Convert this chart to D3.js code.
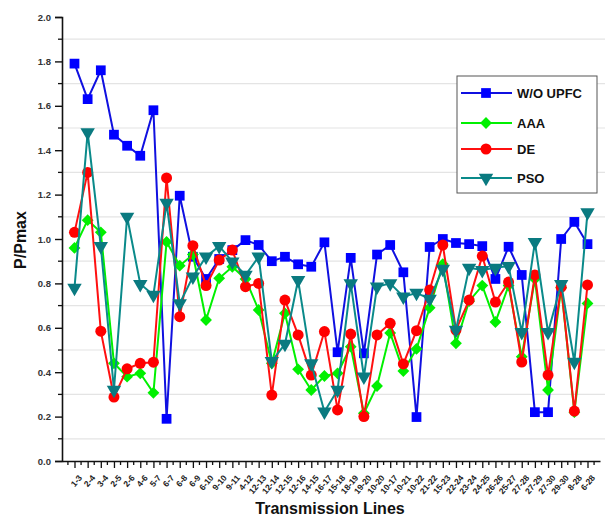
<!DOCTYPE html>
<html>
<head>
<meta charset="utf-8">
<script src="https://cdn.jsdelivr.net/npm/d3@7"></script>
<style>
  html, body { margin: 0; padding: 0; background: #fff; }
  svg { display: block; font-family: Arial, "Liberation Sans", sans-serif; }
</style>
</head>
<body>
<svg id="chart" width="605" height="520"></svg>
<script>
// Transmission lines of the test system
const lines = ["1-3","2-4","3-4","2-5","2-6","4-6","5-7","6-7","6-8","6-9",
  "6-10","9-10","9-11","4-12","12-13","12-14","12-15","12-16","14-15","16-17",
  "15-18","18-19","19-20","10-20","10-17","10-21","10-22","21-22","15-23","22-24",
  "23-24","24-25","26-26","25-27","27-28","27-29","27-30","29-30","8-28","6-28"];

// Line loading P/Pmax for each case
const woUpfc = [1.79,1.63,1.76,1.47,1.42,1.375,1.58,0.19,1.195,0.92,
  0.82,0.91,0.95,0.995,0.973,0.90,0.92,0.886,0.875,0.985,
  0.49,0.915,0.485,0.93,0.973,0.85,0.198,0.964,1.0,0.982,
  0.977,0.968,0.82,0.965,0.838,0.22,0.22,1.0,1.077,0.977];
const aaa = [0.96,1.085,1.03,0.44,0.38,0.395,0.307,0.987,0.88,0.93,
  0.635,0.823,0.875,0.82,0.68,0.44,0.665,0.413,0.32,0.383,
  0.395,0.515,0.215,0.338,0.577,0.405,0.505,0.69,0.887,0.53,
  0.72,0.79,0.626,0.79,0.47,0.82,0.32,0.78,0.22,0.71];
const de = [1.03,1.30,0.585,0.288,0.415,0.44,0.445,1.275,0.65,0.97,
  0.79,0.905,0.95,0.785,0.80,0.297,0.725,0.568,0.387,0.583,
  0.23,0.572,0.20,0.568,0.62,0.437,0.587,0.77,0.973,0.59,
  0.725,0.923,0.716,0.806,0.446,0.838,0.387,0.783,0.225,0.793];
const pso = [0.78,1.48,0.968,0.32,1.10,0.797,0.748,1.162,0.71,0.83,
  0.92,0.968,0.898,0.838,0.92,0.45,0.527,0.815,0.44,0.222,
  0.32,0.80,0.38,0.785,0.80,0.74,0.757,0.73,0.865,0.59,
  0.87,0.86,0.87,0.878,0.58,0.986,0.58,0.797,0.446,1.12];

const yTicks = [0.0,0.2,0.4,0.6,0.8,1.0,1.2,1.4,1.6,1.8,2.0];

// rot: marker rotation in degrees (a square turned 45° gives the diamond)
const series = [
  { name: "W/O UPFC", values: woUpfc, line: "#1010e0", fill: "#0000ff", symbol: d3.symbolSquare, size: 95, rot: 0 },
  { name: "AAA",      values: aaa,    line: "#00f000", fill: "#00f000", symbol: d3.symbolSquare, size: 70, rot: 45 },
  { name: "DE",       values: de,     line: "#ff1010", fill: "#ff0000", symbol: d3.symbolCircle, size: 95, rot: 0 },
  { name: "PSO",      values: pso,    line: "#0a8a8a", fill: "#0a7a80", symbol: d3.symbolTriangle, size: 90, rot: 180 }
];

const svg = d3.select("#chart");
const plotL = 62, plotR = 600, plotT = 17, plotB = 461;

const x = d3.scalePoint().domain(lines).range([plotL, plotR]).padding(0.95);
const y = d3.scaleLinear().domain([0, 2]).range([plotB, plotT]);

// Light horizontal grid at the minor ticks
const minorY = d3.range(1, 20, 2).map(v => v / 10);
svg.append("g").selectAll("line").data(minorY).join("line")
  .attr("x1", plotL).attr("x2", 605)
  .attr("y1", d => y(d)).attr("y2", d => y(d))
  .attr("stroke", "#e4e4e4").attr("stroke-width", 1.2);

// Y axis
const yAxis = svg.append("g").attr("transform", `translate(${plotL},0)`)
  .call(d3.axisLeft(y).tickValues(yTicks).tickFormat(d3.format(".1f")).tickSize(7).tickPadding(4));
yAxis.select(".domain").attr("stroke", "#111").attr("stroke-width", 1.6);
yAxis.selectAll(".tick line").attr("stroke", "#111").attr("stroke-width", 1.4);
yAxis.selectAll(".tick text").attr("font-size", 9.5).attr("font-weight", "bold").attr("fill", "#333");
yAxis.append("g").selectAll("line").data(minorY).join("line")
  .attr("x1", -4).attr("x2", 0).attr("y1", d => y(d)).attr("y2", d => y(d))
  .attr("stroke", "#111").attr("stroke-width", 1.3);

// X axis
const xAxis = svg.append("g").attr("transform", `translate(0,${plotB})`)
  .call(d3.axisBottom(x).tickSize(7).tickSizeOuter(0).tickPadding(3));
xAxis.select(".domain").attr("stroke", "#111").attr("stroke-width", 1.6);
xAxis.selectAll(".tick line").attr("stroke", "#111").attr("stroke-width", 1.3);
xAxis.selectAll(".tick text")
  .attr("font-size", 8.5).attr("font-weight", "bold").attr("fill", "#222")
  .attr("text-anchor", "end")
  .attr("dy", "0.3em")
  .attr("transform", "translate(-2,9) rotate(-50)");
const step = x.step();
const minorX = d3.range(lines.length + 1).map(i => x(lines[0]) - step / 2 + i * step)
  .filter(v => v > plotL && v < plotR + 2);
xAxis.append("g").selectAll("line").data(minorX).join("line")
  .attr("x1", d => d).attr("x2", d => d).attr("y1", 0).attr("y2", 4)
  .attr("stroke", "#111").attr("stroke-width", 1.3);

// Axis titles
svg.append("text").attr("x", 330).attr("y", 514).attr("text-anchor", "middle")
  .attr("font-size", 16).attr("font-weight", "bold").attr("fill", "#111")
  .text("Transmission Lines");
svg.append("text").attr("transform", "translate(26,240) rotate(-90)").attr("text-anchor", "middle")
  .attr("font-size", 16).attr("font-weight", "bold").attr("fill", "#111")
  .text("P/Pmax");

// Series lines and markers
const lineGen = d3.line().x((d, i) => x(lines[i])).y(d => y(d));
series.forEach(s => {
  const g = svg.append("g");
  g.append("path").datum(s.values).attr("d", lineGen)
    .attr("fill", "none").attr("stroke", s.line).attr("stroke-width", 2);
  g.selectAll("path.m").data(s.values).join("path").attr("class", "m")
    .attr("d", d3.symbol().type(s.symbol).size(s.size))
    .attr("transform", (d, i) => `translate(${x(lines[i])},${y(d)}) rotate(${s.rot})`)
    .attr("fill", s.fill);
});

// Legend
const lg = svg.append("g").attr("transform", "translate(457,76)");
lg.append("rect").attr("width", 140).attr("height", 117)
  .attr("fill", "#fff").attr("stroke", "#555").attr("stroke-width", 1);
const rowY = [17, 47, 73, 102];
series.forEach((s, i) => {
  const r = lg.append("g").attr("transform", `translate(0,${rowY[i]})`);
  r.append("line").attr("x1", 4).attr("x2", 55).attr("stroke", s.line).attr("stroke-width", 2);
  r.append("path").attr("d", d3.symbol().type(s.symbol).size(s.size))
    .attr("transform", `translate(29,0) rotate(${s.rot})`).attr("fill", s.fill);
  r.append("text").attr("x", 60).attr("y", 5).attr("font-size", 13).attr("font-weight", "bold")
    .attr("fill", "#111").text(s.name);
});
</script>
</body>
</html>
